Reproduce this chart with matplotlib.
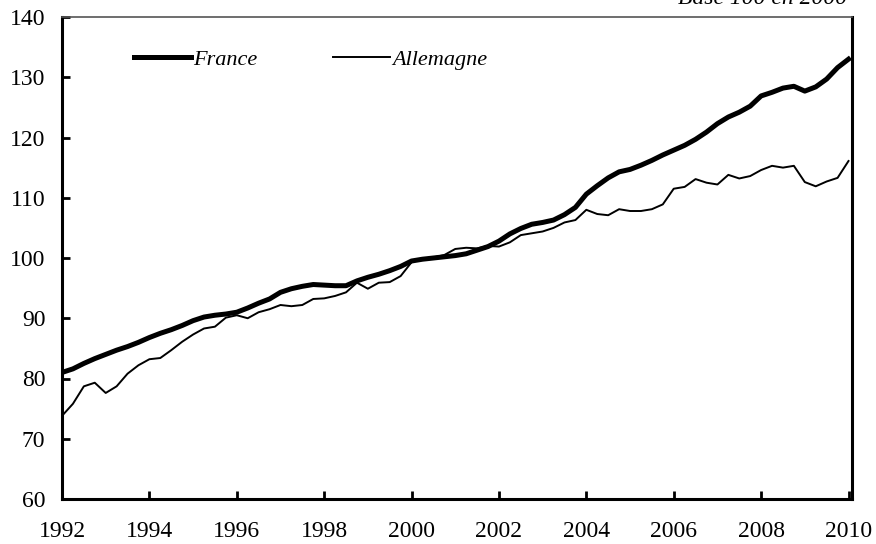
import matplotlib

matplotlib.use("Agg")
import matplotlib.pyplot as plt
import numpy as np


# Quarterly index, base 100 in 2000, 1992Q1 .. 2010Q1
france = [
    81.0, 81.6, 82.5, 83.3, 84.0, 84.7, 85.3, 86.0,
    86.8, 87.5, 88.1, 88.8, 89.6, 90.2, 90.5, 90.7,
    91.0, 91.7, 92.5, 93.2, 94.3, 94.9, 95.3, 95.6,
    95.5, 95.4, 95.4, 96.2, 96.8, 97.3, 97.9, 98.6,
    99.5, 99.8, 100.0, 100.2, 100.4, 100.7, 101.3, 101.9,
    102.8, 104.0, 104.9, 105.6, 105.9, 106.3, 107.2, 108.4,
    110.6, 112.0, 113.3, 114.3, 114.7, 115.4, 116.2, 117.1,
    117.9, 118.7, 119.7, 120.9, 122.3, 123.4, 124.2, 125.2,
    126.9, 127.5, 128.2, 128.5, 127.7, 128.4, 129.7, 131.6,
    133.0,
]
allemagne = [
    73.8, 75.8, 78.7, 79.3, 77.6, 78.7, 80.8, 82.2,
    83.2, 83.4, 84.7, 86.1, 87.3, 88.3, 88.6, 90.1,
    90.5, 90.0, 91.0, 91.5, 92.2, 92.0, 92.2, 93.2,
    93.3, 93.7, 94.3, 95.9, 94.9, 95.9, 96.0, 97.0,
    99.3, 99.9, 100.1, 100.5, 101.5, 101.7, 101.6, 102.0,
    101.9, 102.6, 103.8, 104.1, 104.4, 105.0, 105.9, 106.3,
    108.0, 107.3, 107.1, 108.1, 107.8, 107.8, 108.1, 108.9,
    111.5, 111.8, 113.1, 112.5, 112.2, 113.8, 113.2, 113.6,
    114.6, 115.3, 115.0, 115.3, 112.6, 111.9, 112.7, 113.3,
    116.1,
]
start_year = 1992
year_ticks = [1992, 1994, 1996, 1998, 2000, 2002, 2004, 2006, 2008, 2010]
value_ticks = [60, 70, 80, 90, 100, 110, 120, 130, 140]

quarters = start_year + np.arange(len(france)) / 4.0

plt.rcParams.update(
    {
        "font.family": ["Liberation Serif", "DejaVu Serif"],
        "font.size": 17,
    }
)

fig = plt.figure(figsize=(8.76, 5.44), dpi=100)
ax = fig.add_axes([62 / 876, 1 - 499 / 544, 790 / 876, 482 / 544])

ax.plot(quarters, france, color="black", linewidth=3.6, solid_joinstyle="round",
        label="France")
ax.plot(quarters, allemagne, color="black", linewidth=1.4, solid_joinstyle="round",
        label="Allemagne")

ax.set_xlim(1992, 2010.08)
ax.set_ylim(60, 140)
ax.set_xticks(year_ticks)
ax.set_yticks(value_ticks)

for side in ("left", "bottom", "right"):
    ax.spines[side].set_linewidth(2.2)
    ax.spines[side].set_color("black")
ax.spines["top"].set_linewidth(1.2)
ax.spines["top"].set_color("#555555")

ax.tick_params(axis="y", direction="in", length=6, width=2.0, pad=12, labelsize=17)
ax.tick_params(axis="x", direction="in", length=6, width=2.0, pad=16, labelsize=17)

leg = ax.legend(
    loc="upper left",
    bbox_to_anchor=(52 / 790, 0.974),
    ncol=2,
    frameon=False,
    handlelength=2.55,
    handletextpad=0.12,
    columnspacing=3.4,
    prop={"style": "italic", "size": 16},
)

fig.text(847 / 876, 1 - 4 / 544, "Base 100 en 2000", ha="right", va="baseline",
         style="italic", fontsize=17)

fig.savefig("out.png", dpi=100)
plt.close(fig)
